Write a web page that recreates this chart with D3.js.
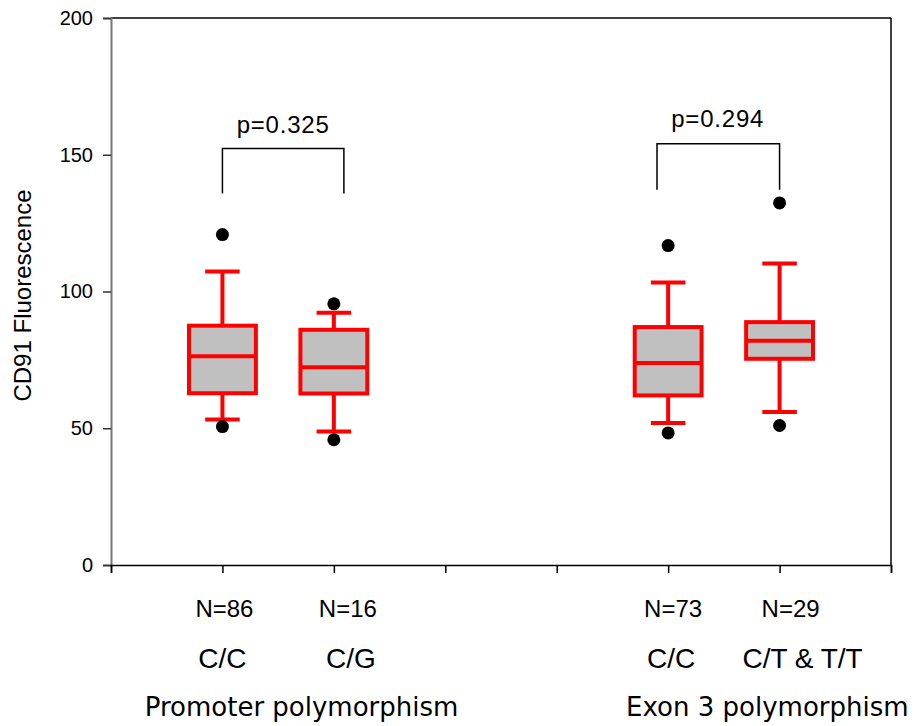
<!DOCTYPE html>
<html lang="en">
<meta charset="UTF-8">
<title>CD91 Fluorescence by genotype</title>
<script src="https://d3js.org/d3.v7.min.js"></script>
<style>
html, body { margin: 0; padding: 0; background: #fff; }
text { font-family: "Liberation Sans", Arial, sans-serif; fill: #000; }
.group-label { font-family: "DejaVu Sans", Verdana, sans-serif; }
</style>
<body>
<div id="my_dataviz"></div>
<script>

// data
var genotypes = ["C/C", "C/G", "C/C", "C/T & T/T"];
var slots = [1, 2, 5, 6];
var nLabels = ["N=86", "N=16", "N=73", "N=29"];
var whiskerLow = [53.2, 48.8, 51.9, 55.9];
var q1 = [62.8, 62.7, 62.0, 75.4];
var medians = [76.3, 72.3, 73.9, 82.0];
var q3 = [87.5, 86.0, 87.0, 88.8];
var whiskerHigh = [107.3, 92.2, 103.3, 110.2];
var outlierLow = [50.6, 45.8, 48.3, 51.0];
var outlierHigh = [120.8, 95.5, 116.8, 132.4];
var groupNames = ["Promoter polymorphism", "Exon 3 polymorphism"];
var pValues = ["p=0.325", "p=0.294"];
var yTicks = [0, 50, 100, 150, 200];

// set the dimensions and margins of the graph
var margin = {top: 18, right: 23, bottom: 161, left: 111},
    width = 914 - margin.left - margin.right,
    height = 726 - margin.top - margin.bottom;

var svg = d3.select("#my_dataviz")
  .append("svg")
    .attr("width", 914)
    .attr("height", 726)
  .append("g")
    .attr("transform", "translate(" + margin.left + "," + margin.top + ")");

var x = d3.scaleLinear().domain([0, 7]).range([0, width]);
var y = d3.scaleLinear().domain([0, 200]).range([height, 0]);

// frame: top and right lines
svg.append("line")
  .attr("x1", 0).attr("x2", width).attr("y1", 0).attr("y2", 0)
  .attr("stroke", "#000").attr("stroke-width", 1.5);
svg.append("line")
  .attr("x1", width).attr("x2", width).attr("y1", 0).attr("y2", height)
  .attr("stroke", "#000").attr("stroke-width", 1.5);

// Y axis
var yAxis = svg.append("g")
  .call(d3.axisLeft(y).tickValues(yTicks).tickSize(8).tickPadding(10));
yAxis.select(".domain").attr("stroke", "#777").attr("stroke-width", 2);
yAxis.selectAll(".tick line").attr("stroke", "#333").attr("stroke-width", 1.5);
yAxis.selectAll(".tick text")
  .style("font-family", "'Liberation Sans', Arial, sans-serif")
  .style("font-size", "20px");

// X axis, ticks only
var xAxis = svg.append("g")
  .attr("transform", "translate(0," + height + ")")
  .call(d3.axisBottom(x).ticks(7).tickSize(8).tickFormat(""));
xAxis.select(".domain").attr("stroke", "#000").attr("stroke-width", 1.5);
xAxis.selectAll(".tick line").attr("stroke", "#000").attr("stroke-width", 1.5);

// Y axis label
svg.append("text")
  .attr("transform", "rotate(-90)")
  .attr("x", 0 - (y(100) + 4))
  .attr("y", 31 - margin.left)
  .style("text-anchor", "middle")
  .style("font-size", "24px")
  .text("CD91 Fluorescence");

// boxes
var idx = d3.range(genotypes.length);
var boxHalf = x(0.3) - x(0);
var capHalf = x(0.155) - x(0);
var red = "#ff0000";

var box = svg.selectAll(".box")
  .data(idx)
  .enter()
  .append("g")
    .attr("class", "box");

// whiskers
box.append("line")
  .attr("x1", function(i) { return x(slots[i]); })
  .attr("x2", function(i) { return x(slots[i]); })
  .attr("y1", function(i) { return y(whiskerLow[i]); })
  .attr("y2", function(i) { return y(whiskerHigh[i]); })
  .attr("stroke", red).attr("stroke-width", 4);

[whiskerLow, whiskerHigh].forEach(function(arr) {
  box.append("line")
    .attr("x1", function(i) { return x(slots[i]) - capHalf; })
    .attr("x2", function(i) { return x(slots[i]) + capHalf; })
    .attr("y1", function(i) { return y(arr[i]); })
    .attr("y2", function(i) { return y(arr[i]); })
    .attr("stroke", red).attr("stroke-width", 4);
});

box.append("rect")
  .attr("x", function(i) { return x(slots[i]) - boxHalf; })
  .attr("width", boxHalf * 2)
  .attr("y", function(i) { return y(q3[i]); })
  .attr("height", function(i) { return y(q1[i]) - y(q3[i]); })
  .attr("fill", "#c0c0c0")
  .attr("stroke", red).attr("stroke-width", 4);

box.append("line")
  .attr("x1", function(i) { return x(slots[i]) - boxHalf; })
  .attr("x2", function(i) { return x(slots[i]) + boxHalf; })
  .attr("y1", function(i) { return y(medians[i]); })
  .attr("y2", function(i) { return y(medians[i]); })
  .attr("stroke", red).attr("stroke-width", 4);

// outliers
[outlierLow, outlierHigh].forEach(function(arr) {
  box.append("circle")
    .attr("cx", function(i) { return x(slots[i]); })
    .attr("cy", function(i) { return y(arr[i]); })
    .attr("r", 6.5)
    .attr("fill", "#000");
});

// significance brackets
var brackets = [
  {x0: 1.0, x1: 2.09, top: 152.3, leg: 135.8, label: 157.8, lx: 1.545},
  {x0: 4.9, x1: 6.0, top: 154.0, leg: 137.2, label: 160.2, lx: 5.445}
];
brackets.forEach(function(b, k) {
  svg.append("path")
    .attr("d", "M" + x(b.x0) + "," + y(b.leg) +
               "V" + y(b.top) + "H" + x(b.x1) + "V" + y(b.leg))
    .attr("fill", "none")
    .attr("stroke", "#000")
    .attr("stroke-width", 1.5);
  svg.append("text")
    .attr("x", x(b.lx))
    .attr("y", y(b.label))
    .style("text-anchor", "middle")
    .style("font-size", "24px")
    .style("letter-spacing", "0.8px")
    .text(pValues[k]);
});

// labels under the axis
var labelNudge = [2, 14, 5, 11];
var genoNudge = [0, 17, 3, 23];
svg.selectAll(".nlabel")
  .data(idx)
  .enter()
  .append("text")
    .attr("x", function(i) { return x(slots[i]) + labelNudge[i]; })
    .attr("y", 617 - margin.top)
    .style("text-anchor", "middle")
    .style("font-size", "24px")
    .text(function(i) { return nLabels[i]; });

svg.selectAll(".geno")
  .data(idx)
  .enter()
  .append("text")
    .attr("x", function(i) { return x(slots[i]) + genoNudge[i]; })
    .attr("y", 668 - margin.top)
    .style("text-anchor", "middle")
    .style("font-size", "28px")
    .text(function(i) { return genotypes[i]; });

var groupX = [1.71, 5.89];
svg.selectAll(".group-label")
  .data(groupNames)
  .enter()
  .append("text")
    .attr("class", "group-label")
    .attr("x", function(d, i) { return x(groupX[i]); })
    .attr("y", 716 - margin.top)
    .style("text-anchor", "middle")
    .style("font-size", "26px")
    .text(function(d) { return d; });

</script>
</body>
</html>
